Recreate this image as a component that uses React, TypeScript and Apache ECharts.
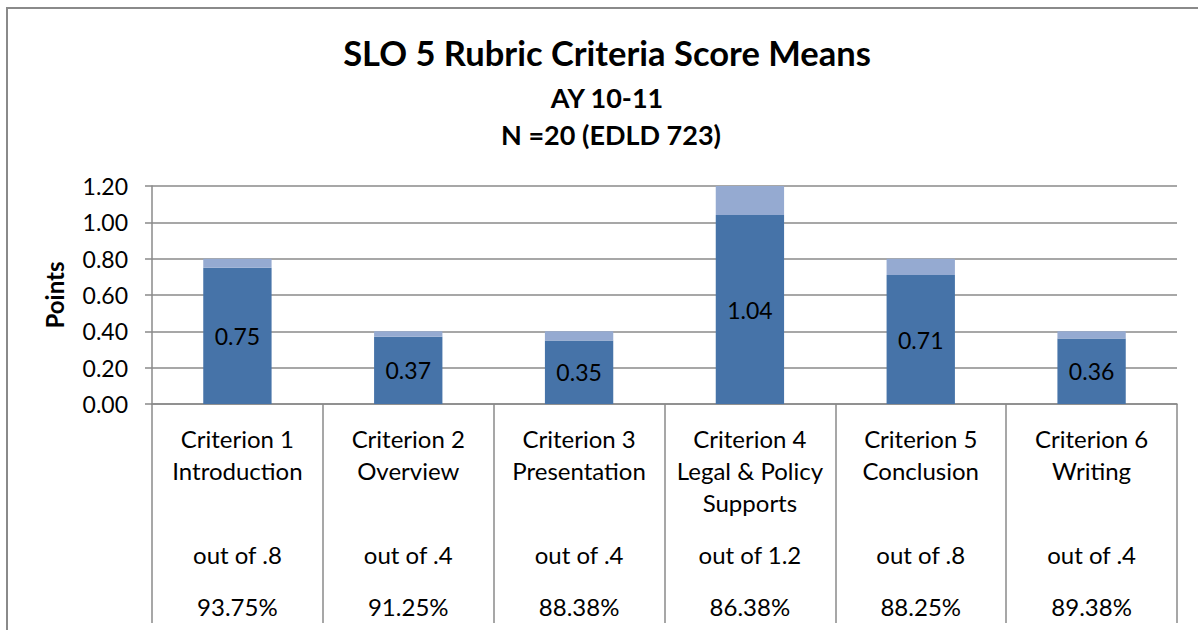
import React, { useEffect, useRef } from "react";
import * as echarts from "echarts";

const categories = [
  "Criterion 1\nIntroduction",
  "Criterion 2\nOverview",
  "Criterion 3\nPresentation",
  "Criterion 4\nLegal & Policy\nSupports",
  "Criterion 5\nConclusion",
  "Criterion 6\nWriting",
];
const outOfLabels = ["out of .8", "out of .4", "out of .4", "out of 1.2", "out of .8", "out of .4"];
const percentLabels = ["93.75%", "91.25%", "88.38%", "86.38%", "88.25%", "89.38%"];
const meanScores = [0.75, 0.37, 0.35, 1.04, 0.71, 0.36];
const maxPoints = [0.8, 0.4, 0.4, 1.2, 0.8, 0.4];
const yTicks = [0, 0.2, 0.4, 0.6, 0.8, 1.0, 1.2];

const FONT = "Lato, 'Open Sans', sans-serif";
const GRAY = "#8a8a8a";

export default function App() {
  const ref = useRef<HTMLDivElement>(null);
  useEffect(() => {
    document.body.style.margin = "0";
    const chart = echarts.init(ref.current!, null, { renderer: "svg" });
    const remainder = maxPoints.map((m, i) => +(m - meanScores[i]).toFixed(2));
    chart.setOption({
      animation: false,
      textStyle: { fontFamily: FONT },
      graphic: [
        {
          type: "rect",
          shape: { x: 7, y: 8, width: 1200, height: 640 },
          style: { fill: "none", stroke: GRAY, lineWidth: 2 },
          z: -1,
        },
        {
          type: "text",
          x: 607,
          y: 52,
          style: {
            text: "SLO 5 Rubric Criteria Score Means",
            fontFamily: FONT,
            fontWeight: "bold",
            fontSize: 34.5,
            fill: "#000",
            align: "center",
            verticalAlign: "middle",
          },
        },
        {
          type: "text",
          x: 607,
          y: 97,
          style: {
            text: "AY 10-11",
            fontFamily: FONT,
            fontWeight: "bold",
            fontSize: 27,
            fill: "#000",
            align: "center",
            verticalAlign: "middle",
          },
        },
        {
          type: "text",
          x: 611,
          y: 134,
          style: {
            text: "N =20 (EDLD 723)",
            fontFamily: FONT,
            fontWeight: "bold",
            fontSize: 27,
            fill: "#000",
            align: "center",
            verticalAlign: "middle",
          },
        },
      ],
      grid: { left: 152, right: 21, top: 186, bottom: 226 },
      xAxis: [
        {
          type: "category",
          data: categories,
          position: "bottom",
          axisLine: { show: true, lineStyle: { color: GRAY, width: 1.5 } },
          axisTick: { show: true, length: 219, lineStyle: { color: GRAY, width: 1.5 } },
          axisLabel: {
            interval: 0,
            fontSize: 24,
            lineHeight: 32,
            margin: 18,
            color: "#000",
            fontFamily: FONT,
            verticalAlign: "top",
          },
        },
        {
          type: "category",
          data: outOfLabels,
          position: "bottom",
          offset: 140,
          axisLine: { show: false },
          axisTick: { show: false },
          axisLabel: { interval: 0, fontSize: 24, lineHeight: 20, margin: 0, color: "#000", fontFamily: FONT },
        },
        {
          type: "category",
          data: percentLabels,
          position: "bottom",
          offset: 192,
          axisLine: { show: false },
          axisTick: { show: false },
          axisLabel: { interval: 0, fontSize: 24, lineHeight: 20, margin: 0, color: "#000", fontFamily: FONT },
        },
      ],
      yAxis: {
        type: "value",
        min: 0,
        max: 1.2,
        interval: 0.2,
        name: "Points",
        nameLocation: "middle",
        nameGap: 86,
        nameRotate: 90,
        nameTextStyle: { fontSize: 24, fontWeight: "bold", color: "#000", fontFamily: FONT },
        axisLine: { show: true, lineStyle: { color: GRAY, width: 1.5 } },
        axisTick: { show: true, length: 7, lineStyle: { color: GRAY, width: 1.5 } },
        splitLine: { show: true, lineStyle: { color: GRAY, width: 1.5 } },
        axisLabel: {
          fontSize: 23,
          margin: 24,
          color: "#000",
          fontFamily: FONT,
          formatter: (v: number) => {
            const t = yTicks.find((x) => Math.abs(x - v) < 1e-9);
            return (t ?? v).toFixed(2);
          },
        },
      },
      series: [
        {
          type: "bar",
          name: "Mean",
          stack: "total",
          xAxisIndex: 0,
          data: meanScores,
          barWidth: "40%",
          itemStyle: { color: "#4673A8" },
          label: {
            show: true,
            position: "inside",
            fontSize: 23,
            color: "#000",
            fontFamily: FONT,
            formatter: (p: any) => p.value.toFixed(2),
          },
        },
        {
          type: "bar",
          name: "Remaining",
          stack: "total",
          xAxisIndex: 0,
          data: remainder,
          barWidth: "40%",
          itemStyle: { color: "#95AAD1" },
          label: { show: false },
        },
      ],
    });
    return () => chart.dispose();
  }, []);
  return <div ref={ref} style={{ width: 1198, height: 630 }} />;
}
